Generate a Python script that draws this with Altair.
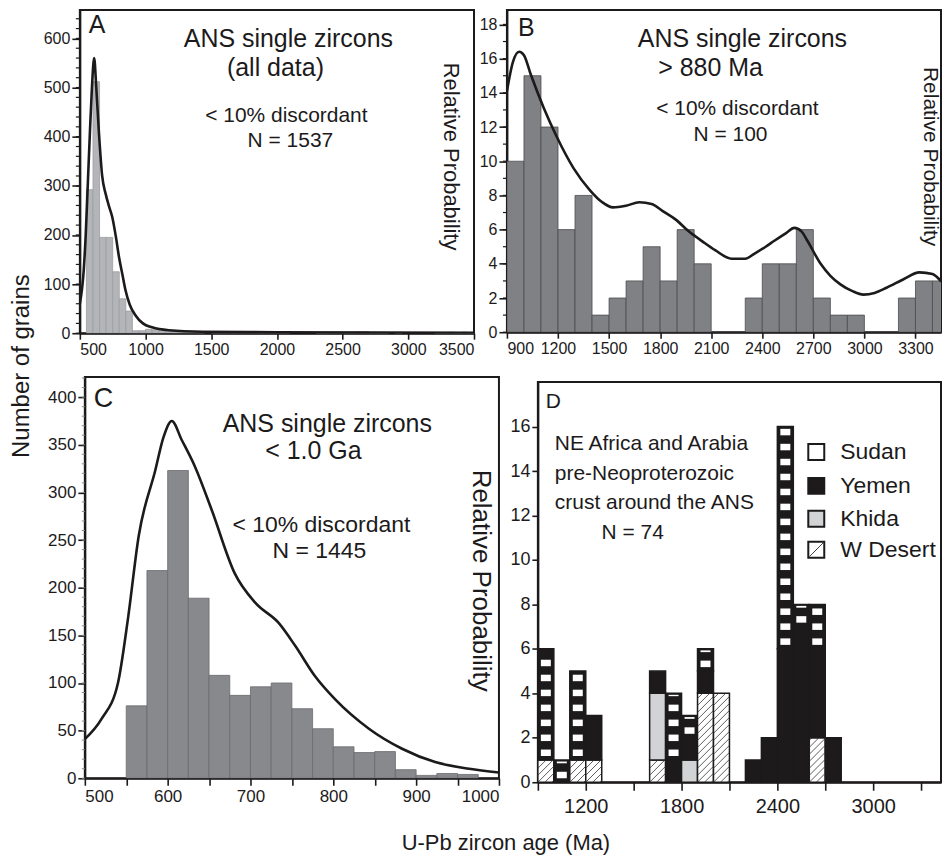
import altair as alt
import pandas as pd

FONT = "Liberation Sans, Arial, sans-serif"

# ---------------- Panel A: all data ----------------
a_bin_start = [550, 600, 650, 700, 750, 800, 850, 900, 950, 1000, 1050, 1100, 1150, 1200, 1250,
               1300, 1350, 1400, 1500, 1550, 1600, 1650, 1700, 1750, 1800, 1850, 1900, 1950, 2000,
               2050, 2300, 2350, 2400, 2450, 2500, 2550, 2600, 2650, 2700, 2750, 2800, 2900, 3200,
               3250, 3300, 3350, 3400, 3450]
a_counts = [292, 512, 195, 195, 125, 70, 45, 5, 5, 8, 7, 6, 6, 3, 3,
            4, 4, 1, 1, 1, 2, 1, 3, 2, 2, 1, 3, 3, 2,
            2, 1, 1, 2, 2, 2, 2, 3, 3, 1, 1, 1, 1, 1,
            1, 2, 1, 2, 1]
A_BIN = 50
a_curve_age = [500, 530, 545, 560, 576, 592, 609, 625, 646, 670, 697, 720, 747, 775, 798, 825,
               848, 880, 924, 980, 1050, 1177, 1430, 2000, 3500]
a_curve_val = [60, 130, 202, 300, 405, 500, 560, 500, 405, 320, 283, 260, 236, 195, 155, 118,
               87, 58, 36, 20, 12, 6, 3, 2, 1]

# ---------------- Panel B: > 880 Ma ----------------
b_bin_start = [900, 1000, 1100, 1200, 1300, 1400, 1500, 1600, 1700, 1800, 1900, 2000, 2100,
               2200, 2300, 2400, 2500, 2600, 2700, 2800, 2900, 3000, 3100, 3200, 3300, 3400]
b_counts = [10, 15, 12, 6, 8, 1, 2, 3, 5, 3, 6, 4, 0, 0, 2, 4, 4, 6, 2, 1, 1, 0, 0, 2, 3, 3]
B_BIN = 100
b_curve_age = [900, 935, 972, 1000, 1039, 1117, 1194, 1291, 1388, 1460, 1523, 1600, 1678, 1750,
               1813, 1890, 1968, 2050, 2123, 2220, 2300, 2355, 2420, 2471, 2540, 2588, 2630, 2665,
               2743, 2800, 2859, 2930, 2994, 3060, 3130, 3230, 3323, 3400, 3450, 3500]
b_curve_val = [14.1, 15.8, 16.4, 16.2, 15.1, 13.1, 11.4, 9.6, 8.3, 7.6, 7.3, 7.4, 7.6, 7.5,
               7.1, 6.6, 5.9, 5.3, 4.8, 4.3, 4.3, 4.6, 5.0, 5.35, 5.8, 6.1, 5.9, 5.35,
               4.0, 3.3, 2.8, 2.4, 2.2, 2.3, 2.6, 3.1, 3.5, 3.4, 3.0, 2.6]

# ---------------- Panel C: < 1.0 Ga ----------------
c_bin_start = [550, 575, 600, 625, 650, 675, 700, 725, 750, 775, 800, 825, 850, 875, 900, 925, 950]
c_counts = [76, 218, 323, 189, 108, 87, 96, 100, 73, 52, 33, 27, 28, 9, 3, 5, 4]
C_BIN = 25
c_curve_age = [500, 520, 540, 552, 565, 585, 595, 605, 617, 633, 653, 681, 706, 734, 754, 778,
               802, 843, 883, 923, 964, 1000]
c_curve_val = [41, 62, 100, 167, 254, 323, 358, 375, 355, 327, 282, 215, 184, 163, 139, 107,
               83, 52, 31, 17, 10, 6]

# ---------------- Panel D: pre-Neoproterozoic crust ----------------
d_bin_start = [900, 900, 1000, 1100, 1100, 1200, 1200,
               1600, 1600, 1600, 1700, 1700, 1800, 1800, 1800,
               1900, 1900, 1900, 2000, 2200, 2300, 2400, 2400, 2500, 2500,
               2600, 2600, 2600, 2700]
d_region = ["W Desert", "Sudan", "Sudan", "W Desert", "Sudan", "W Desert", "Yemen",
            "W Desert", "Khida", "Yemen", "Yemen", "Sudan", "Khida", "Yemen", "Sudan",
            "W Desert", "Yemen", "Sudan", "W Desert", "Yemen", "Yemen", "Yemen", "Sudan", "Yemen", "Sudan",
            "W Desert", "Yemen", "Sudan", "Yemen"]
d_count = [1, 5, 1, 1, 4, 1, 2,
           1, 3, 1, 1, 3, 1, 1, 1,
           4, 1, 1, 4, 1, 2, 6, 10, 7, 1,
           2, 4, 2, 2]
D_BIN = 100
legend_names = ["Sudan", "Yemen", "Khida", "W Desert"]
legend_fill = ["white", "#1c1a1b", "#d1d3d4", "white"]

# ---------------- layout constants ----------------
AW, AH, A_YMAX = 395, 324, 658
BW, BH, B_YMAX, B_XMAX = 435, 323, 18.85, 3450
CW, CH, C_YMAX, C_L = 420, 402, 421, 5          # C plot starts C_L px inside its cell
DW, DH, D_YMAX, D_XMAX, D_L, D_T = 435, 406, 18, 3425, 31, 5

BLACK = "#1c1a1b"


def one():
    return alt.Chart(pd.DataFrame({"k": [0]}))


def label(txt, x, y, size, align="center", angle=0, baseline="middle"):
    return one().mark_text(
        text=txt, font=FONT, fontSize=size, align=align, baseline=baseline,
        angle=angle, color=BLACK
    ).encode(x=alt.value(x), y=alt.value(y))


def frame(x0, x1, y0, y1):
    return one().mark_rect(fillOpacity=0, stroke=BLACK, strokeWidth=2).encode(
        x=alt.value(x0), x2=alt.value(x1), y=alt.value(y0), y2=alt.value(y1))


def minor_ticks(vals, yscale, yaxis, x_at, length, color=BLACK, width=1.2):
    df = pd.DataFrame({"v": vals})
    return alt.Chart(df).mark_rule(color=color, strokeWidth=width).encode(
        y=alt.Y("v:Q", scale=yscale, axis=yaxis),
        x=alt.value(x_at - length), x2=alt.value(x_at)
    )


def hist_panel(starts, counts, binw, cage, cval, xs, ys, xaxis, yaxis, fill, stroke):
    df = pd.DataFrame({"start": starts, "count": counts})
    df["end"] = df["start"] + binw
    df["zero"] = 0
    bars = alt.Chart(df).mark_rect(fill=fill, stroke=stroke, strokeWidth=0.8, clip=True).encode(
        x=alt.X("start:Q", scale=xs, axis=xaxis), x2="end:Q",
        y=alt.Y("count:Q", scale=ys, axis=yaxis), y2="zero:Q"
    )
    cdf = pd.DataFrame({"age": cage, "p": cval})
    line = alt.Chart(cdf).mark_line(color=BLACK, strokeWidth=2.6, interpolate="monotone", clip=True).encode(
        x=alt.X("age:Q", scale=xs, axis=xaxis),
        y=alt.Y("p:Q", scale=ys, axis=yaxis)
    )
    return bars, line


# ---------- Panel A ----------
xsA = alt.Scale(domain=[500, 3500], nice=False, zero=False)
ysA = alt.Scale(domain=[0, A_YMAX], nice=False)
ax_A = alt.Axis(values=[500, 1000, 1500, 2000, 2500, 3000, 3500], format="d", title=None,
                labelFontSize=16, tickSize=6, labelPadding=2)
ay_A = alt.Axis(values=[0, 100, 200, 300, 400, 500, 600], title=None, labelFontSize=16, tickSize=8)
barsA, lineA = hist_panel(a_bin_start, a_counts, A_BIN, a_curve_age, a_curve_val,
                          xsA, ysA, ax_A, ay_A, "#b4b5b9", "#9c9da1")
minorA = minor_ticks(list(range(0, 660, 20)), ysA, ay_A, 0, 4)
panelA = alt.layer(
    barsA, lineA, minorA,
    label("A", 9, 15, 25, align="left"),
    label("ANS single zircons", 209, 29, 25),
    label("(all data)", 196, 58, 25),
    label("< 10% discordant", 207, 106, 21),
    label("N = 1537", 211, 131, 21),
    label("Relative Probability", 372, 147, 22, angle=90),
).properties(width=AW, height=AH)

# ---------- Panel B ----------
xsB = alt.Scale(domain=[900, B_XMAX], nice=False, zero=False)
ysB = alt.Scale(domain=[0, B_YMAX], nice=False)
ax_B = alt.Axis(values=list(range(900, 3400, 300)), format="d", title=None, labelFontSize=16,
                tickSize=6, labelPadding=2)
ay_B = alt.Axis(values=list(range(0, 19, 2)), title=None, labelFontSize=16, tickSize=8)
barsB, lineB = hist_panel(b_bin_start, b_counts, B_BIN, b_curve_age, b_curve_val,
                          xsB, ysB, ax_B, ay_B, "#808185", "#4d4d4f")
minorB = minor_ticks(list(range(0, 19, 1)), ysB, ay_B, 0, 4)
panelB = alt.layer(
    barsB, lineB, minorB,
    label("B", 11, 18, 25, align="left"),
    label("ANS single zircons", 236, 29, 25),
    label("> 880 Ma", 204, 58, 25),
    label("< 10% discordant", 231, 99, 21),
    label("N = 100", 224, 125, 21),
    label("Relative Probability", 424, 147, 21, angle=90),
).properties(width=BW, height=BH)

# ---------- Panel C ----------
xsC = alt.Scale(domain=[500, 1000], nice=False, zero=False, range=[C_L, CW])
ysC = alt.Scale(domain=[0, C_YMAX], nice=False)
ax_C = alt.Axis(values=list(range(500, 1001, 50)), format="d", title=None, labelFontSize=17,
                tickSize=7, labelPadding=3,
                labelExpr="datum.value % 100 == 0 ? datum.label : ''")
ay_C = alt.Axis(values=list(range(0, 401, 50)), title=None, labelFontSize=17, tickSize=7, offset=-C_L)
barsC, lineC = hist_panel(c_bin_start, c_counts, C_BIN, c_curve_age, c_curve_val,
                          xsC, ysC, ax_C, ay_C, "#88898d", "#6a6b6e")
minorC = minor_ticks(list(range(0, 421, 10)), ysC, ay_C, C_L, 3, color="#8a8a8a", width=1)
panelC = alt.layer(
    frame(C_L, CW, 0, CH),
    barsC, lineC, minorC,
    label("C", 14, 22, 27, align="left"),
    label("ANS single zircons", 248, 47, 25),
    label("< 1.0 Ga", 234, 74, 25),
    label("< 10% discordant", 242, 148, 23),
    label("N = 1445", 240, 174, 23),
    label("Relative Probability", 402, 204, 26, angle=90),
    label("Number of grains", -58, -11, 24, angle=270),
    label("U-Pb zircon age (Ma)", 427, 467, 22),
).properties(width=CW, height=CH, view=alt.ViewBackground(stroke="transparent"))

# ---------- Panel D ----------
dd = pd.DataFrame({"start": d_bin_start, "region": d_region, "n": d_count})
order = {"W Desert": 0, "Khida": 1, "Yemen": 2, "Sudan": 3}
dd["o"] = dd["region"].map(order)
dd = dd.sort_values(["start", "o"]).reset_index(drop=True)
dd["y1"] = dd.groupby("start")["n"].cumsum()
dd["y0"] = dd["y1"] - dd["n"]
dd["end"] = dd["start"] + D_BIN

sx = (DW - D_L) / (D_XMAX - 900)   # px per Ma
sy = (DH - D_T) / D_YMAX           # px per count

# horizontal brick pattern inside Sudan segments
stripe_rows = []
for _, r in dd[dd["region"] == "Sudan"].iterrows():
    top = r["y1"] * sy - 1.5
    b = r["y0"] * sy + 4
    while b < top - 1:
        stripe_rows.append({"xs": r["start"] + 3 / sx, "xe": r["end"] - 3 / sx,
                            "ys": b / sy, "ye": min(b + 6.5, top) / sy})
        b += 15
stripes = pd.DataFrame(stripe_rows)

# diagonal hatch inside W Desert segments
hatch_rows = []
STEP = 7
for _, r in dd[dd["region"] == "W Desert"].iterrows():
    xa, xb = 0.0, (r["end"] - r["start"]) * sx
    ya, yb = r["y0"] * sy, r["y1"] * sy
    k0 = int((ya - xb) // STEP) - 1
    k1 = int((yb - xa) // STEP) + 1
    for k in range(k0, k1 + 1):
        c = k * STEP
        x_s = max(xa, ya - c)
        x_e = min(xb, yb - c)
        if x_e - x_s > 0.8:
            hatch_rows.append({"hx": r["start"] + x_s / sx, "hx2": r["start"] + x_e / sx,
                               "hy": (x_s + c) / sy, "hy2": (x_e + c) / sy})
hatch = pd.DataFrame(hatch_rows)

xsD = alt.Scale(domain=[900, D_XMAX], nice=False, zero=False, range=[D_L, DW])
ysD = alt.Scale(domain=[0, D_YMAX], nice=False, range=[DH, D_T])
ax_D = alt.Axis(values=list(range(900, 3401, 300)), format="d", title=None, labelFontSize=20,
                tickSize=8, labelPadding=6,
                labelExpr="(datum.value - 1200) % 600 == 0 ? datum.label : ''")
ay_D = alt.Axis(values=list(range(0, 17, 2)), title=None, labelFontSize=18, tickSize=6, offset=-D_L)

segs = alt.Chart(dd).mark_rect(stroke=BLACK, strokeWidth=1.5).encode(
    x=alt.X("start:Q", scale=xsD, axis=ax_D), x2="end:Q",
    y=alt.Y("y0:Q", scale=ysD, axis=ay_D), y2="y1:Q",
    fill=alt.Fill("region:N", scale=alt.Scale(domain=legend_names,
                                               range=[BLACK, BLACK, "#d1d3d4", "white"]), legend=None)
)
stripe_layer = alt.Chart(stripes).mark_rect(fill="white", strokeWidth=0).encode(
    x=alt.X("xs:Q", scale=xsD, axis=ax_D), x2="xe:Q",
    y=alt.Y("ys:Q", scale=ysD, axis=ay_D), y2="ye:Q"
)
hatch_layer = alt.Chart(hatch).mark_rule(color="#333333", strokeWidth=0.8).encode(
    x=alt.X("hx:Q", scale=xsD, axis=ax_D), x2="hx2:Q",
    y=alt.Y("hy:Q", scale=ysD, axis=ay_D), y2="hy2:Q"
)

leg_layers = []
LX, LYS = 310, [75, 109, 142, 173]
for nm, fl, ly in zip(legend_names, legend_fill, LYS):
    leg_layers.append(
        one().mark_square(size=256, fill=fl, stroke=BLACK, strokeWidth=2, opacity=1).encode(
            x=alt.value(LX), y=alt.value(ly))
    )
    leg_layers.append(label(nm, LX + 24, ly, 23, align="left"))
# hatch in legend box for W Desert
wy = LYS[3]
for off in [-4, 4]:
    leg_layers.append(
        one().mark_rule(color="#333333", strokeWidth=0.9).encode(
            x=alt.value(LX - 7 + max(0, off)), x2=alt.value(LX + 7 + min(0, off)),
            y=alt.value(wy + 7 - max(0, off)), y2=alt.value(wy - 7 - min(0, off)))
    )

panelD = alt.layer(
    frame(D_L, DW, D_T, DH),
    segs, stripe_layer, hatch_layer,
    label("D", 39, 25, 21, align="left"),
    label("NE Africa and Arabia", 48, 67, 21, align="left"),
    label("pre-Neoproterozoic", 48, 97, 21, align="left"),
    label("crust around the ANS", 48, 126, 21, align="left"),
    label("N = 74", 126, 156, 21),
    *leg_layers,
).properties(width=DW, height=DH, view=alt.ViewBackground(stroke="transparent"))

chart = alt.concat(
    panelA, panelB, panelC, panelD, columns=2, bounds="flush",
    spacing={"row": 44, "column": 8}
).properties(
    padding={"left": 0, "top": 0, "right": 0, "bottom": 0}, background="white"
).configure_view(
    stroke=BLACK, strokeWidth=2
).configure_axis(
    grid=False, domainColor=BLACK, domainWidth=2, tickColor=BLACK, tickWidth=1.6,
    labelColor=BLACK, labelFont=FONT
)

chart.save("out.html", embed_options={"renderer": "svg", "actions": False})
